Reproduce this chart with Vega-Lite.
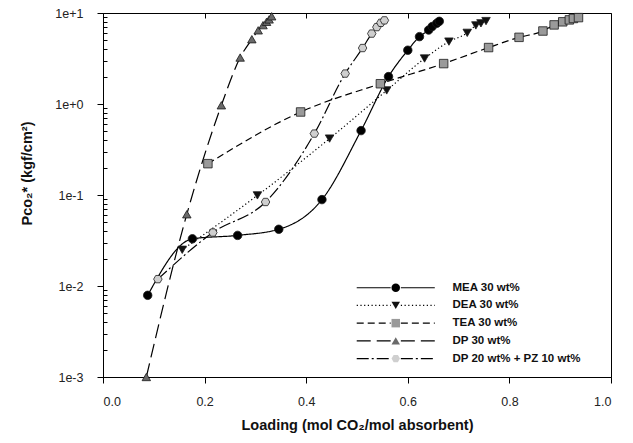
{
  "$schema": "https://vega.github.io/schema/vega-lite/v6.json",
  "autosize": "none",
  "width": 508,
  "height": 364,
  "padding": {"left": 103, "top": 13, "right": 22, "bottom": 66},
  "background": "white",
  "config": {
    "view": {"stroke": "black", "strokeWidth": 1},
    "axis": {
      "domainColor": "black", "tickColor": "black", "labelColor": "#222",
      "labelFont": "Liberation Sans", "labelFontSize": 12.5,
      "titleFont": "Liberation Sans", "titleFontWeight": "bold", "titleFontSize": 14.5, "titleColor": "#111",
      "grid": false
    },
    "legend": {
      "labelFont": "Liberation Sans", "labelFontSize": 11.5, "labelFontWeight": "bold", "labelColor": "#111",
      "padding": 0, "rowPadding": 4.7
    }
  },
  "data": {
    "values": [
      {"series": "MEA 30 wt%", "loading": 0.088, "p": 0.0079},
      {"series": "MEA 30 wt%", "loading": 0.176, "p": 0.033},
      {"series": "MEA 30 wt%", "loading": 0.265, "p": 0.036},
      {"series": "MEA 30 wt%", "loading": 0.346, "p": 0.042},
      {"series": "MEA 30 wt%", "loading": 0.431, "p": 0.089},
      {"series": "MEA 30 wt%", "loading": 0.508, "p": 0.51},
      {"series": "MEA 30 wt%", "loading": 0.562, "p": 2.0},
      {"series": "MEA 30 wt%", "loading": 0.600, "p": 3.9},
      {"series": "MEA 30 wt%", "loading": 0.623, "p": 5.5},
      {"series": "MEA 30 wt%", "loading": 0.641, "p": 6.5},
      {"series": "MEA 30 wt%", "loading": 0.648, "p": 7.1},
      {"series": "MEA 30 wt%", "loading": 0.657, "p": 7.7},
      {"series": "MEA 30 wt%", "loading": 0.662, "p": 8.1},
      {"series": "DEA 30 wt%", "loading": 0.156, "p": 0.025},
      {"series": "DEA 30 wt%", "loading": 0.304, "p": 0.099},
      {"series": "DEA 30 wt%", "loading": 0.446, "p": 0.417},
      {"series": "DEA 30 wt%", "loading": 0.5585, "p": 1.41},
      {"series": "DEA 30 wt%", "loading": 0.633, "p": 3.16},
      {"series": "DEA 30 wt%", "loading": 0.681, "p": 4.85},
      {"series": "DEA 30 wt%", "loading": 0.717, "p": 6.05},
      {"series": "DEA 30 wt%", "loading": 0.734, "p": 7.3},
      {"series": "DEA 30 wt%", "loading": 0.744, "p": 7.7},
      {"series": "DEA 30 wt%", "loading": 0.754, "p": 8.15},
      {"series": "TEA 30 wt%", "loading": 0.2065, "p": 0.221},
      {"series": "TEA 30 wt%", "loading": 0.389, "p": 0.817},
      {"series": "TEA 30 wt%", "loading": 0.546, "p": 1.67},
      {"series": "TEA 30 wt%", "loading": 0.6706, "p": 2.78},
      {"series": "TEA 30 wt%", "loading": 0.759, "p": 4.17},
      {"series": "TEA 30 wt%", "loading": 0.819, "p": 5.4},
      {"series": "TEA 30 wt%", "loading": 0.866, "p": 6.34},
      {"series": "TEA 30 wt%", "loading": 0.888, "p": 7.4},
      {"series": "TEA 30 wt%", "loading": 0.905, "p": 8.0},
      {"series": "TEA 30 wt%", "loading": 0.918, "p": 8.4},
      {"series": "TEA 30 wt%", "loading": 0.926, "p": 8.7},
      {"series": "TEA 30 wt%", "loading": 0.936, "p": 8.9},
      {"series": "DP 30 wt%", "loading": 0.0853, "p": 0.001},
      {"series": "DP 30 wt%", "loading": 0.165, "p": 0.0614},
      {"series": "DP 30 wt%", "loading": 0.233, "p": 0.968},
      {"series": "DP 30 wt%", "loading": 0.270, "p": 3.24},
      {"series": "DP 30 wt%", "loading": 0.293, "p": 5.15},
      {"series": "DP 30 wt%", "loading": 0.3055, "p": 6.45},
      {"series": "DP 30 wt%", "loading": 0.315, "p": 7.35},
      {"series": "DP 30 wt%", "loading": 0.322, "p": 8.0},
      {"series": "DP 30 wt%", "loading": 0.327, "p": 8.5},
      {"series": "DP 30 wt%", "loading": 0.332, "p": 9.2},
      {"series": "DP 20 wt% + PZ 10 wt%", "loading": 0.108, "p": 0.0119},
      {"series": "DP 20 wt% + PZ 10 wt%", "loading": 0.2163, "p": 0.0387},
      {"series": "DP 20 wt% + PZ 10 wt%", "loading": 0.32, "p": 0.0838},
      {"series": "DP 20 wt% + PZ 10 wt%", "loading": 0.416, "p": 0.473},
      {"series": "DP 20 wt% + PZ 10 wt%", "loading": 0.4767, "p": 2.16},
      {"series": "DP 20 wt% + PZ 10 wt%", "loading": 0.511, "p": 4.12},
      {"series": "DP 20 wt% + PZ 10 wt%", "loading": 0.529, "p": 5.94},
      {"series": "DP 20 wt% + PZ 10 wt%", "loading": 0.539, "p": 7.0},
      {"series": "DP 20 wt% + PZ 10 wt%", "loading": 0.547, "p": 7.8},
      {"series": "DP 20 wt% + PZ 10 wt%", "loading": 0.554, "p": 8.3}
    ]
  },
  "resolve": {"axis": {"x": "independent", "y": "independent"}},
  "layer": [
    {
      "mark": {"type": "line", "interpolate": "monotone", "stroke": "black", "strokeWidth": 1.2},
      "encoding": {
        "x": {"field": "loading", "type": "quantitative", "scale": {"domain": [0, 1]},
          "axis": {"values": [0, 0.2, 0.4, 0.6, 0.8, 1.0], "format": ".1f", "tickSize": 6, "labelPadding": 12,
            "title": "Loading (mol CO₂/mol absorbent)", "titlePadding": 11}},
        "y": {"field": "p", "type": "quantitative", "scale": {"type": "log", "domain": [0.001, 10]},
          "axis": {"values": [0.001, 0.01, 0.1, 1, 10], "format": ".0e", "tickSize": 6, "labelPadding": 14,
            "title": "Pᴄᴏ₂* (kgf/cm²)", "titlePadding": 20, "titleY": 160}},
        "detail": {"field": "series"},
        "strokeDash": {"field": "series", "type": "nominal",
          "sort": ["MEA 30 wt%", "DEA 30 wt%", "TEA 30 wt%", "DP 30 wt%", "DP 20 wt% + PZ 10 wt%"],
          "scale": {"range": [[1, 0], [1.2, 2.5], [7, 4], [14, 6], [12, 3, 2, 3]]},
          "legend": {"orient": "none", "legendX": 287, "legendY": 269, "title": null,
            "symbolType": "M-9.2,0L-1.2,0M1.2,0L9.2,0", "symbolSize": 72,
            "symbolStrokeColor": "black", "symbolStrokeWidth": 1.2, "symbolFillColor": "transparent",
            "labelOffset": 51}}
      }
    },
    {
      "mark": {"type": "point", "filled": true, "size": 72, "stroke": "#1a1a1a", "strokeWidth": 0.8, "opacity": 1},
      "encoding": {
        "x": {"field": "loading", "type": "quantitative", "scale": {"domain": [0, 1]},
          "axis": {"values": [0, 0.2, 0.4, 0.6, 0.8, 1.0], "labels": false, "domain": false, "tickSize": -5, "title": null}},
        "y": {"field": "p", "type": "quantitative", "scale": {"type": "log", "domain": [0.001, 10]},
          "axis": {"values": [0.002, 0.003, 0.004, 0.005, 0.006, 0.007, 0.008, 0.009, 0.02, 0.03, 0.04, 0.05, 0.06, 0.07, 0.08, 0.09, 0.2, 0.3, 0.4, 0.5, 0.6, 0.7, 0.8, 0.9, 2, 3, 4, 5, 6, 7, 8, 9],
            "labels": false, "domain": false, "tickSize": -4, "title": null, "orient": "left"}},
        "shape": {"field": "series", "type": "nominal",
          "scale": {"domain": ["MEA 30 wt%", "DEA 30 wt%", "TEA 30 wt%", "DP 30 wt%", "DP 20 wt% + PZ 10 wt%"],
            "range": ["circle", "triangle-down", "square", "triangle-up", "M-1,0L-0.5,-0.866L0.5,-0.866L1,0L0.5,0.866L-0.5,0.866Z"]},
          "legend": {"orient": "none", "legendX": 287, "legendY": 269, "title": null, "labelExpr": "' '",
            "symbolSize": 72, "symbolStrokeColor": "#1a1a1a", "symbolStrokeWidth": 0.8}},
        "fill": {"field": "series", "type": "nominal",
          "scale": {"domain": ["MEA 30 wt%", "DEA 30 wt%", "TEA 30 wt%", "DP 30 wt%", "DP 20 wt% + PZ 10 wt%"],
            "range": ["#000000", "#111111", "#9a9a9a", "#6a6a6a", "#cfcfcf"]},
          "legend": {"orient": "none", "legendX": 287, "legendY": 269, "title": null, "labelExpr": "' '",
            "symbolSize": 72, "symbolStrokeColor": "#1a1a1a", "symbolStrokeWidth": 0.8}}
      }
    }
  ]
}
